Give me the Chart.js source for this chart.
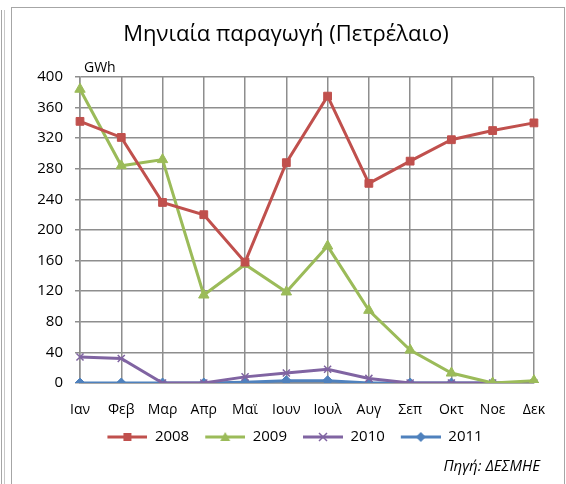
<!DOCTYPE html>
<html lang="el">
<head>
  <meta charset="UTF-8">
  <title>Μηνιαία παραγωγή (Πετρέλαιο)</title>
  <script src="https://cdn.jsdelivr.net/npm/chart.js"></script>
  <style>
    body { margin: 0; background: #fff; width: 566px; height: 484px; overflow: hidden; position: relative; }
    #outerLine { position: absolute; left: 1px; top: 10px; width: 2px; height: 480px; border-left: 1px solid #a6a6a6; border-right: 1px solid #c8c8c8; }
    #frame { position: absolute; left: 11px; top: 7px; width: 552px; height: 480px; border: 1px solid #a6a6a6; border-bottom: none; }
    #chartBox { position: absolute; left: 0; top: 0; width: 552px; height: 477px; }
  </style>
</head>
<body>
  <div id="outerLine"></div>
  <div id="frame">
    <div id="chartBox"><canvas id="oilChart"></canvas></div>
  </div>

  <script>
    const months = ['Ιαν', 'Φεβ', 'Μαρ', 'Απρ', 'Μαϊ', 'Ιουν', 'Ιουλ', 'Αυγ', 'Σεπ', 'Οκτ', 'Νοε', 'Δεκ'];
    const values2008 = [342, 321, 236, 220, 158, 288, 375, 261, 290, 318, 330, 340];
    const values2009 = [384, 284, 292, 115, 155, 119, 179, 95, 43, 13, 0, 3];
    const values2010 = [34, 32, 0, 0, 8, 13, 18, 6, 0, 0, 0, 0];
    const values2011 = [0, 0, 0, 0, 1, 3, 3, 0, 0, 0, 0, 0];
    const yTicks = [0, 40, 80, 120, 160, 200, 240, 280, 320, 360, 400];

    const fontFamily = '"Open Sans", "Noto Sans", sans-serif';

    // small canvas with line + marker, used as legend symbol (6px gap on the left)
    function legendSymbol(color, style) {
      const c = document.createElement('canvas');
      c.width = 46;
      c.height = 14;
      const ctx = c.getContext('2d');
      ctx.translate(6, 0);
      ctx.strokeStyle = color;
      ctx.fillStyle = color;
      ctx.lineWidth = 3;
      ctx.beginPath();
      ctx.moveTo(0, 7);
      ctx.lineTo(40, 7);
      ctx.stroke();
      ctx.lineWidth = 1.5;
      if (style === 'rect') {
        ctx.fillRect(16, 3, 8, 8);
      } else if (style === 'triangle') {
        ctx.beginPath();
        ctx.moveTo(20, 2);
        ctx.lineTo(25, 11);
        ctx.lineTo(15, 11);
        ctx.closePath();
        ctx.fill();
      } else if (style === 'crossRot') {
        ctx.beginPath();
        ctx.moveTo(16, 3); ctx.lineTo(24, 11);
        ctx.moveTo(24, 3); ctx.lineTo(16, 11);
        ctx.stroke();
      } else if (style === 'rectRot') {
        ctx.beginPath();
        ctx.moveTo(20, 2);
        ctx.lineTo(25, 7);
        ctx.lineTo(20, 12);
        ctx.lineTo(15, 7);
        ctx.closePath();
        ctx.fill();
      }
      return c;
    }

    function series(label, data, color, style, radius) {
      return {
        label: label,
        data: data,
        borderColor: color,
        backgroundColor: color,
        borderWidth: 3,
        pointStyle: style,
        pointRadius: radius,
        pointHoverRadius: radius,
        pointBorderWidth: style === 'crossRot' ? 1.5 : 1,
        tension: 0,
        legendImage: legendSymbol(color, style)
      };
    }

    // "GWh" unit label, source note, title and legend nudged right like the original
    const extras = {
      id: 'extras',
      afterLayout(chart) {
        chart.legend.left += 18.5;
        chart.legend.right += 18.5;
        chart.titleBlock.left += 12.5;
        chart.titleBlock.right += 12.5;
      },
      afterDraw(chart) {
        const { ctx, chartArea } = chart;
        ctx.save();
        ctx.fillStyle = '#000';
        ctx.font = '14px ' + fontFamily;
        ctx.textBaseline = 'bottom';
        ctx.fillText('GWh', chartArea.left + 4, chartArea.top - 2);
        ctx.font = 'italic 15px ' + fontFamily;
        ctx.textAlign = 'right';
        ctx.textBaseline = 'middle';
        ctx.fillText('Πηγή: ΔΕΣΜΗΕ', chartArea.right + 6, 459);
        ctx.restore();
      }
    };

    new Chart(document.getElementById('oilChart'), {
      type: 'line',
      data: {
        labels: months,
        datasets: [
          series('2008', values2008, '#C0504D', 'rect', 5.5),
          series('2009', values2009, '#9BBB59', 'triangle', 6),
          series('2010', values2010, '#8064A2', 'crossRot', 5),
          series('2011', values2011, '#4F81BD', 'rectRot', 5)
        ]
      },
      options: {
        responsive: true,
        maintainAspectRatio: false,
        animation: false,
        layout: { padding: { left: 0, right: 29, top: 0, bottom: 30.5 } },
        scales: {
          x: {
            offset: false,
            afterFit: scale => { scale.height = 36.5; },
            grid: { color: '#8e8e8e', lineWidth: 1.5, drawTicks: false },
            border: { color: '#8e8e8e', width: 1.5 },
            ticks: { color: '#000', padding: 19, font: { family: fontFamily, size: 14 }, maxRotation: 0, autoSkip: false }
          },
          y: {
            min: 0,
            max: 400,
            afterBuildTicks: scale => { scale.ticks = yTicks.map(v => ({ value: v })); },
            afterFit: scale => { scale.width = 68; },
            grid: { color: '#8e8e8e', lineWidth: 1.5, tickLength: 5 },
            border: { color: '#8e8e8e', width: 1.5 },
            ticks: { color: '#000', padding: 12, font: { family: fontFamily, size: 15 } }
          }
        },
        plugins: {
          title: {
            display: true,
            text: 'Μηνιαία παραγωγή (Πετρέλαιο)',
            color: '#000',
            font: { family: fontFamily, size: 22, weight: 'normal' },
            padding: { top: 14, bottom: 28.6 }
          },
          legend: {
            position: 'bottom',
            labels: {
              usePointStyle: true,
              pointStyleWidth: 46,
              padding: 10,
              color: '#000',
              font: { family: fontFamily, size: 15 },
              generateLabels: chart => chart.data.datasets.map((ds, i) => ({
                text: ds.label,
                pointStyle: ds.legendImage,
                fillStyle: ds.borderColor,
                strokeStyle: ds.borderColor,
                lineWidth: 0,
                hidden: false,
                datasetIndex: i
              }))
            }
          },
          tooltip: { enabled: false }
        }
      },
      plugins: [extras]
    });
  </script>
</body>
</html>
